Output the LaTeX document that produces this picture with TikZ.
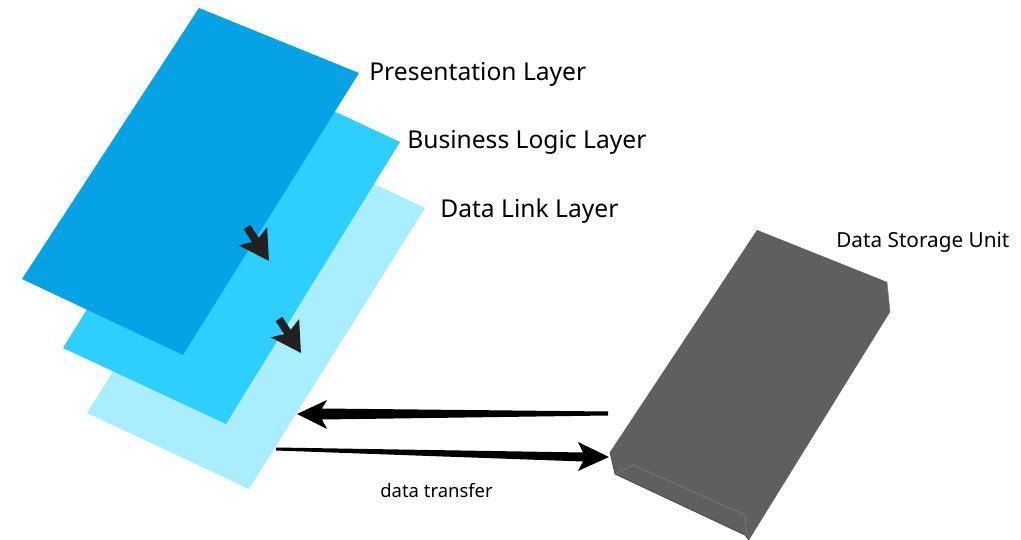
\documentclass[tikz,border=0pt]{standalone}
\usepackage{fontspec}
\setmainfont{Noto Sans}
\usetikzlibrary{arrows.meta,positioning,calc}
\definecolor{presblue}{HTML}{05A3E6}
\definecolor{bizblue}{HTML}{2DCFFF}
\definecolor{linkblue}{HTML}{A8EEFF}
\definecolor{storegray}{HTML}{5F5F5F}

\begin{document}
\begin{tikzpicture}[x=0.02cm,y=-0.02cm,
  lbl/.style={anchor=west,inner sep=0pt,font=\fontsize{14}{16}\selectfont},
  sarr/.style={-{Stealth[length=16.5pt,width=18.5pt,inset=3pt]},line width=4.5pt,draw=black!87},
  barr/.style={fill=black}
]
\useasboundingbox (0,0) rectangle (1021,540);

% three stacked layers, back to front
\fill[linkblue] (263,132) -- (425,208) -- (249,489) -- (87,413) -- cycle;
\fill[bizblue]  (237,66)  -- (400,142) -- (226,424) -- (63,348) -- cycle;
\fill[presblue] (199,8)   -- (359,73)  -- (183,355) -- (22,279) -- cycle;

\node[lbl] (pres) at (369,74)  {Presentation Layer};
\node[lbl] (biz)  at (407,142) {Business Logic Layer};
\node[lbl] (link) at (440,211) {Data Link Layer};

% flow between layers
\coordinate (p1) at (247,227); \coordinate (p2) at (269,261);
\coordinate (b1) at (279,319); \coordinate (b2) at (301,353);
\draw[sarr] (p1) -- (p2);
\draw[sarr] (b1) -- (b2);

% storage slab
\fill[storegray] (757,230) -- (887,282) -- (890,312) -- (749,540)
  -- (745,535) -- (615,474) -- (610,452) -- cycle;
\draw[black!70,line width=0.5pt] (610,452) -- (615,474) -- (745,535) -- (749,540);
\draw[gray,line width=0.3pt] (615,474) -- (633,465) -- (745,515) -- (747,536);
\draw[gray,line width=0.3pt] (887,282) -- (890,312);
\node[lbl,font=\fontsize{11.8}{14}\selectfont] (store) at (836,242) {Data Storage Unit};

% data exchange with storage, shafts widen toward the head
\coordinate (sIn)  at (608,413.5); \coordinate (lIn)  at (297,414);
\coordinate (lOut) at (276,449);   \coordinate (sOut) at (609,457);
\fill[barr] ($(sIn)+(0,-2)$) -- ($(lIn)+(25,-5.5)$) -- ($(lIn)+(30,-14)$) -- (lIn)
  -- ($(lIn)+(30,15)$) -- ($(lIn)+(25,5.5)$) -- ($(sIn)+(0,2)$) -- cycle;
\fill[barr] ($(lOut)+(0,-1.5)$) -- ($(sOut)+(-26,-4.5)$) -- ($(sOut)+(-31,-15)$) -- (sOut)
  -- ($(sOut)+(-31,14)$) -- ($(sOut)+(-26,4.5)$) -- ($(lOut)+(0,1.5)$) -- cycle;
\node[lbl,font=\fontsize{10.5}{12}\selectfont] (xfer) at (380,491) {data transfer};
\end{tikzpicture}
\end{document}
